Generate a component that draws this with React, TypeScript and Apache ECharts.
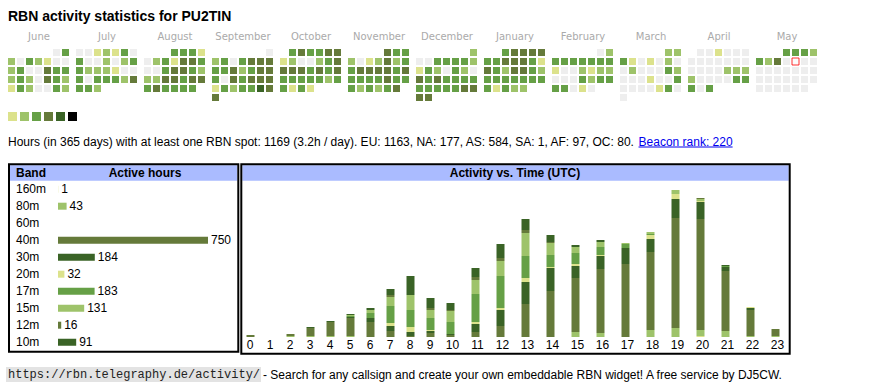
import React, { useEffect, useRef } from 'react';
import * as echarts from 'echarts';

const TITLE = 'RBN activity statistics for PU2TIN';
const MONTH_NAMES = ['June', 'July', 'August', 'September', 'October', 'November', 'December', 'January', 'February', 'March', 'April', 'May'];
const MONTH_KEYS = ['2024-06', '2024-07', '2024-08', '2024-09', '2024-10', '2024-11', '2024-12', '2025-01', '2025-02', '2025-03', '2025-04', '2025-05'];

// activity level per day: 0 none, 1..5 increasing
const LEVEL_COLORS = ['#eeeeee', '#dce28c', '#9ec36a', '#66a046', '#657a3a', '#3a6326'];
const LEGEND_COLORS = ['#dce28c', '#9ec36a', '#66a046', '#657a3a', '#3a6326', '#000000'];

const jun2024 = [0, 3, 2, 0, 3, 2, 1, 0, 0, 2, 3, 0, 0, 4, 3, 3, 2, 3, 2, 0, 4, 3, 2, 1, 3, 2, 0, 0, 3, 2];
const jul2024 = [0, 0, 1, 2, 1, 3, 0, 3, 0, 0, 2, 0, 2, 3, 3, 2, 2, 2, 1, 0, 0, 3, 0, 3, 3, 3, 2, 4, 3, 3, 2];
const aug2024 = [3, 3, 3, 1, 0, 2, 3, 1, 4, 4, 3, 0, 0, 3, 4, 4, 3, 2, 2, 2, 4, 4, 3, 4, 4, 3, 4, 3, 3, 3, 3];
const sep2024 = [0, 2, 3, 0, 3, 4, 4, 4, 3, 3, 4, 2, 3, 4, 4, 3, 0, 4, 3, 4, 4, 4, 1, 3, 2, 3, 3, 5, 4, 4];
const oct2024 = [3, 4, 3, 3, 4, 4, 1, 2, 0, 0, 2, 3, 4, 4, 4, 4, 3, 4, 3, 4, 3, 3, 3, 3, 3, 2, 3, 3, 1, 3, 1];
const nov2024 = [4, 3, 3, 2, 0, 1, 2, 4, 2, 3, 3, 4, 4, 4, 4, 3, 4, 3, 3, 3, 3, 4, 3, 3, 3, 2, 3, 2, 3, 4];
const dec2024 = [2, 0, 0, 3, 3, 3, 3, 2, 1, 3, 2, 0, 3, 2, 0, 4, 3, 4, 3, 3, 3, 3, 3, 3, 3, 3, 3, 4, 4, 4, 4];
const jan2025 = [3, 4, 4, 4, 4, 3, 3, 4, 4, 4, 3, 1, 4, 3, 2, 4, 4, 3, 2, 3, 3, 3, 3, 3, 3, 3, 3, 1, 3, 2, 2];
const feb2025 = [0, 2, 3, 3, 3, 3, 3, 3, 3, 1, 0, 0, 2, 1, 2, 2, 0, 0, 0, 3, 2, 3, 3, 3, 3, 0, 1, 0];
const mar2025 = [2, 2, 3, 1, 0, 1, 0, 2, 0, 0, 2, 0, 0, 0, 3, 2, 0, 0, 0, 1, 0, 0, 3, 0, 0, 0, 0, 1, 3, 0, 0];
const apr2025 = [0, 0, 1, 0, 0, 0, 0, 0, 0, 0, 0, 0, 0, 0, 0, 0, 0, 2, 2, 2, 2, 0, 0, 0, 0, 3, 3, 3, 0, 3];
const may2025 = [3, 3, 3, 2, 3, 2, 4, 0, 0, 0, 0, 0, 0, 0, 0, 0, 0, 0, 0, 0, 0, 0, 0, 0, 0, 0, 0, 0, 0, 0, 0];
const MONTH_LEVELS = [jun2024, jul2024, aug2024, sep2024, oct2024, nov2024, dec2024, jan2025, feb2025, mar2025, apr2025, may2025];
const TODAY = '2025-05-09';

const INFO_TEXT = 'Hours (in 365 days) with at least one RBN spot: 1169 (3.2h / day). EU: 1163, NA: 177, AS: 584, SA: 1, AF: 97, OC: 80. ';
const LINK_TEXT = 'Beacon rank: 220';

const BANDS = ['160m', '80m', '60m', '40m', '30m', '20m', '17m', '15m', '12m', '10m'];
const BAND_HOURS = [1, 43, null, 750, 184, 32, 183, 131, 16, 91];
const BAND_COLORS = ['#dce28c', '#9ec36a', '#66a046', '#657a3a', '#3a6326', '#dce28c', '#66a046', '#9ec36a', '#657a3a', '#3a6326'];

const HOURS = ['0', '1', '2', '3', '4', '5', '6', '7', '8', '9', '10', '11', '12', '13', '14', '15', '16', '17', '18', '19', '20', '21', '22', '23'];
const UTC_160 = [0, 0, 0, 0, 0, 0, 0, 0, 0, 0, 0, 0, 0, 0, 0, 0, 0, 0, 0, 0, 1, 0, 0, 0];
const UTC_80 = [0, 0, 1, 1, 1, 1, 0, 0, 0, 0, 0, 0, 0, 0, 0, 5, 4, 0, 7, 9, 6, 6, 1, 1];
const UTC_60 = [0, 0, 0, 0, 0, 0, 0, 0, 0, 0, 0, 0, 0, 0, 0, 0, 0, 0, 0, 0, 0, 0, 0, 0];
const UTC_40 = [2, 0, 2, 8, 14, 18, 15, 6, 1, 4, 2, 5, 11, 33, 46, 54, 64, 73, 78, 110, 111, 60, 26, 7];
const UTC_30 = [0, 0, 0, 1, 1, 1, 4, 5, 4, 2, 1, 8, 16, 22, 23, 12, 13, 16, 13, 19, 17, 4, 2, 0];
const UTC_20 = [0, 0, 0, 0, 0, 0, 0, 3, 5, 1, 0, 2, 2, 4, 1, 2, 1, 0, 4, 5, 1, 0, 1, 0];
const UTC_17 = [0, 0, 0, 0, 0, 1, 5, 17, 17, 12, 12, 28, 32, 22, 12, 11, 8, 4, 1, 0, 0, 1, 0, 0];
const UTC_15 = [0, 0, 0, 0, 0, 1, 3, 9, 15, 8, 11, 14, 15, 23, 12, 6, 5, 1, 2, 4, 2, 0, 0, 0];
const UTC_12 = [0, 0, 0, 0, 0, 0, 0, 2, 0, 2, 1, 3, 3, 3, 1, 0, 0, 0, 0, 0, 1, 0, 0, 0];
const UTC_10 = [0, 0, 0, 0, 0, 1, 2, 6, 19, 10, 7, 9, 14, 11, 7, 2, 2, 0, 0, 0, 0, 1, 0, 0];
const UTC_BY_BAND = [UTC_160, UTC_80, UTC_60, UTC_40, UTC_30, UTC_20, UTC_17, UTC_15, UTC_12, UTC_10];

const FOOTER_URL = 'https://rbn.telegraphy.de/activity/';
const FOOTER_TEXT = '- Search for any callsign and create your own embeddable RBN widget! A free service by DJ5CW.';

const SANS = '"Liberation Sans", Arial, sans-serif';
const HEADER_BLUE = '#aabbff';

function measure(text: string, font: string): number {
  const ctx = document.createElement('canvas').getContext('2d');
  if (!ctx) return text.length * 6;
  ctx.font = font;
  return ctx.measureText(text).width;
}

export default function App() {
  const ref = useRef<HTMLDivElement>(null);

  useEffect(() => {
    if (!ref.current) return;
    const chart = echarts.init(ref.current, undefined, { renderer: 'svg' });

    // calendar layout
    const MONTH_PITCH = 68;
    const CELL = 9;
    const calendars = MONTH_KEYS.map((key, i) => ({
      orient: 'vertical',
      range: key,
      left: 7 + MONTH_PITCH * i,
      top: 48,
      cellSize: [CELL, CELL],
      splitLine: { show: false },
      itemStyle: { color: LEVEL_COLORS[0], borderColor: '#ffffff', borderWidth: 2 },
      dayLabel: { show: false, firstDay: 1 },
      monthLabel: { show: false },
      yearLabel: { show: false },
    }));
    const heatSeries = MONTH_KEYS.map((key, i) => ({
      type: 'heatmap',
      coordinateSystem: 'calendar',
      calendarIndex: i,
      data: MONTH_LEVELS[i].map((lv, d) => [`${key}-${String(d + 1).padStart(2, '0')}`, lv]),
      emphasis: { disabled: true },
    }));

    // hour columns laid out like an auto-sized html table: width grows with label length
    const colWidth = (label: string) => 15 + 5 * label.length;
    const barX: number[] = [];
    const labelX: number[] = [];
    let acc = 0;
    HOURS.forEach((h) => {
      const w = colWidth(h);
      barX.push(acc + 10.5);
      labelX.push(acc + w / 2);
      acc += w;
    });

    const infoFont = `12px ${SANS}`;
    const infoW = measure(INFO_TEXT, infoFont);
    const linkW = measure(LINK_TEXT, infoFont);

    const graphics: any[] = [
      { type: 'text', x: 8, y: 16, style: { text: TITLE, font: `bold 14px ${SANS}`, fill: '#000', verticalAlign: 'middle' } },
      ...MONTH_NAMES.map((m, i) => ({
        type: 'text', x: 39 + MONTH_PITCH * i, y: 36,
        style: { text: m, font: '10px "DejaVu Sans", Verdana, sans-serif', fill: '#aaaaaa', align: 'center', verticalAlign: 'middle' },
      })),
      ...LEGEND_COLORS.map((c, i) => ({ type: 'rect', shape: { x: 8 + 12 * i, y: 112, width: 9, height: 9 }, style: { fill: c } })),
      { type: 'text', x: 8, y: 142, style: { text: INFO_TEXT, font: infoFont, fill: '#000', verticalAlign: 'middle' } },
      { type: 'text', x: 8 + infoW, y: 142, style: { text: LINK_TEXT, font: infoFont, fill: '#0000ee', verticalAlign: 'middle' } },
      { type: 'line', shape: { x1: 8 + infoW, y1: 147, x2: 8 + infoW + linkW, y2: 147 }, style: { stroke: '#0000ee', lineWidth: 1 } },
      // band table box
      { type: 'rect', shape: { x: 10, y: 165.3, width: 227.3, height: 15.4 }, style: { fill: HEADER_BLUE } },
      { type: 'rect', shape: { x: 9, y: 164.3, width: 229.3, height: 187.4 }, style: { fill: 'none', stroke: '#000', lineWidth: 2 } },
      { type: 'text', x: 16, y: 173, style: { text: 'Band', font: `bold 12px ${SANS}`, fill: '#000', verticalAlign: 'middle' } },
      { type: 'text', x: 145, y: 173, style: { text: 'Active hours', font: `bold 12px ${SANS}`, fill: '#000', align: 'center', verticalAlign: 'middle' } },
      // activity vs time box
      { type: 'rect', shape: { x: 242.3, y: 165.3, width: 546.4, height: 15.4 }, style: { fill: HEADER_BLUE } },
      { type: 'rect', shape: { x: 241.3, y: 164.3, width: 548.4, height: 189.4 }, style: { fill: 'none', stroke: '#000', lineWidth: 2 } },
      { type: 'text', x: 515, y: 173, style: { text: 'Activity vs. Time (UTC)', font: `bold 12px ${SANS}`, fill: '#000', align: 'center', verticalAlign: 'middle' } },
      // footer
      { type: 'rect', shape: { x: 6, y: 367, width: 255, height: 15 }, style: { fill: '#e3e3e3' } },
      { type: 'text', x: 8, y: 374.5, style: { text: FOOTER_URL, font: '12px "Liberation Mono", monospace', fill: '#222', verticalAlign: 'middle' } },
      { type: 'text', x: 263, y: 374.5, style: { text: FOOTER_TEXT, font: `12px ${SANS}`, fill: '#000', verticalAlign: 'middle' } },
    ];

    const option: any = {
      animation: false,
      calendar: calendars,
      visualMap: {
        type: 'piecewise',
        show: false,
        seriesIndex: MONTH_KEYS.map((_, i) => i),
        dimension: 1,
        pieces: LEVEL_COLORS.map((c, i) => ({ value: i, color: c })),
      },
      grid: [
        { left: 58, top: 180.7, width: 200, height: 170 },
        { left: 240, top: 177, width: 550, height: 160 },
      ],
      xAxis: [
        { gridIndex: 0, type: 'value', min: 0, max: 1000, show: false },
        {
          gridIndex: 1, type: 'value', min: 0, max: 550,
          axisLine: { show: false }, axisTick: { show: false }, splitLine: { show: false },
          axisLabel: {
            customValues: labelX,
            formatter: (v: number) => {
              const idx = labelX.findIndex((x) => Math.abs(x - v) < 0.01);
              return idx >= 0 ? HOURS[idx] : '';
            },
            fontSize: 12, fontFamily: SANS, color: '#000', margin: 2,
          },
        },
      ],
      yAxis: [
        {
          gridIndex: 0, type: 'category', data: BANDS, inverse: true,
          axisLine: { show: false }, axisTick: { show: false }, splitLine: { show: false },
          axisLabel: { align: 'left', margin: 42, fontSize: 12, fontFamily: SANS, color: '#000' },
        },
        { gridIndex: 1, type: 'value', min: 0, max: 160, show: false },
      ],
      series: [
        ...heatSeries,
        {
          type: 'scatter', coordinateSystem: 'calendar', calendarIndex: 11,
          data: [[TODAY, 0]], symbol: 'rect', symbolSize: 7,
          itemStyle: { color: '#ffffff', borderColor: '#ff0000', borderWidth: 1 },
          emphasis: { disabled: true },
        },
        {
          type: 'bar', xAxisIndex: 0, yAxisIndex: 0, barWidth: 7,
          data: BAND_HOURS.map((v, i) => (v == null ? '-' : { value: v, itemStyle: { color: BAND_COLORS[i] } })),
          label: { show: true, position: 'right', distance: 3, color: '#000', fontSize: 12, fontFamily: SANS },
          emphasis: { disabled: true },
        },
        // hours stacked per band; value first so that the stack is computed on the y dimension
        ...UTC_BY_BAND.map((arr, bi) => ({
          type: 'bar', name: BANDS[bi], xAxisIndex: 1, yAxisIndex: 1, stack: 'utc', barWidth: 8,
          itemStyle: { color: BAND_COLORS[bi] },
          encode: { x: 1, y: 0 },
          data: arr.map((v, h) => [v, barX[h]]),
          emphasis: { disabled: true },
        })),
      ],
      graphic: graphics,
    };

    chart.setOption(option);
    return () => chart.dispose();
  }, []);

  return <div ref={ref} style={{ position: 'fixed', left: 0, top: 0, width: 870, height: 390, background: '#fff' }} />;
}
